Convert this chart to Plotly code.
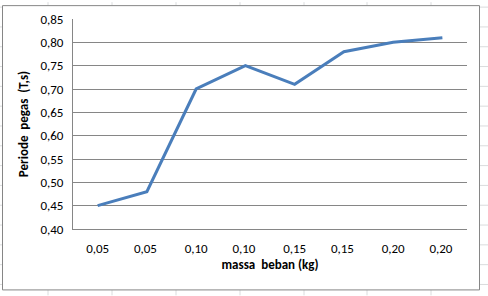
import plotly.graph_objects as go

categories = ["0,05", "0,05 ", "0,10", "0,10 ", "0,15", "0,15 ", "0,20", "0,20 "]
periode = [0.45, 0.48, 0.70, 0.75, 0.71, 0.78, 0.80, 0.81]
y_ticks = [0.40, 0.45, 0.50, 0.55, 0.60, 0.65, 0.70, 0.75, 0.80, 0.85]
y_tick_labels = ["0,40", "0,45", "0,50", "0,55", "0,60", "0,65", "0,70", "0,75", "0,80", "0,85"]

W, H = 488, 296
L, R, T, B = 73, 21, 17, 67
pw, ph = W - L - R, H - T - B

def px(x):
    return (x - L) / pw

def py(y):
    return 1 - (y - T) / ph

FONT = "Carlito, Calibri, Lato, sans-serif"

fig = go.Figure()
fig.add_trace(go.Scatter(
    x=categories, y=periode, mode="lines",
    line=dict(color="#4A7EBB", width=3),
    showlegend=False, hoverinfo="skip",
))

shapes = []
# faint spreadsheet grid behind the chart
for x in [48, 112, 176, 240, 304, 367, 431]:
    shapes.append(dict(type="line", xref="paper", yref="paper", x0=px(x), x1=px(x),
                       y0=py(0), y1=py(H), line=dict(color="#DADCDD", width=1), layer="below"))
for y in range(5, H, 20):
    shapes.append(dict(type="line", xref="paper", yref="paper", x0=px(0), x1=px(W),
                       y0=py(y), y1=py(y), line=dict(color="#DADCDD", width=1), layer="below"))
# chart area
shapes.append(dict(type="rect", xref="paper", yref="paper", x0=px(2.5), x1=px(479.5),
                   y0=py(290.5), y1=py(3.5), fillcolor="white",
                   line=dict(color="#868686", width=1), layer="below"))

fig.update_layout(
    width=W, height=H,
    margin=dict(l=L, r=R, t=T, b=B),
    paper_bgcolor="white", plot_bgcolor="rgba(0,0,0,0)",
    font=dict(family=FONT, size=13, color="#000000"),
    shapes=shapes,
    xaxis=dict(
        type="category", range=[-0.5, 7.5],
        showgrid=False, showline=True, linecolor="#868686", linewidth=1,
        ticks="", tickfont=dict(size=13), ticklabelstandoff=7,
        title=dict(text="<b>massa  beban (kg)</b>", font=dict(size=13), standoff=5),
        zeroline=False,
    ),
    yaxis=dict(
        range=[0.40, 0.85], tickvals=y_ticks, ticktext=y_tick_labels,
        showgrid=True, gridcolor="#868686", gridwidth=1,
        showline=True, linecolor="#868686", linewidth=1,
        ticks="", tickfont=dict(size=13), ticklabelstandoff=6,
        title=dict(text="<b>Periode  pegas  (T,s)</b>", font=dict(size=13), standoff=8),
        zeroline=False,
    ),
)

fig.write_html("out.html")
